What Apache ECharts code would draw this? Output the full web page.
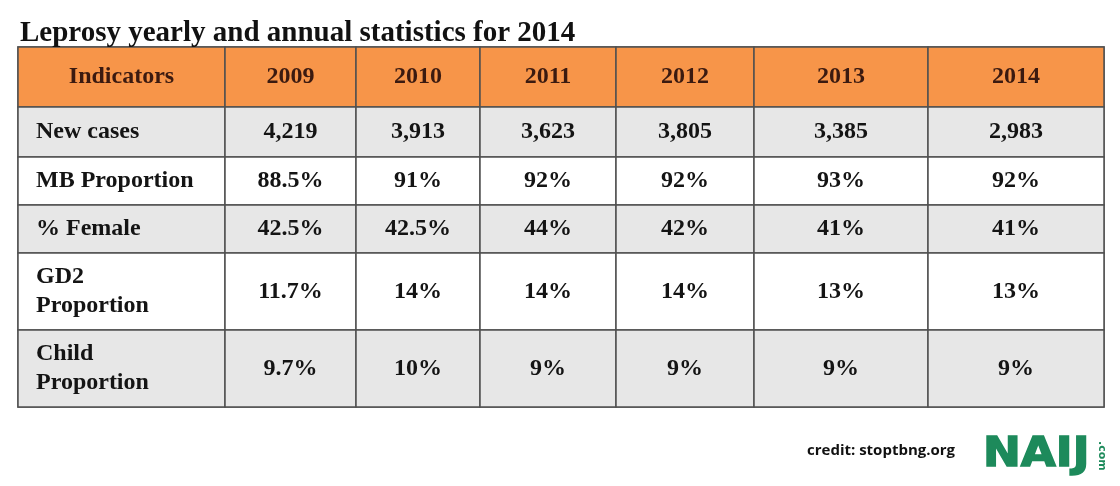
<!DOCTYPE html>
<html><head><meta charset="utf-8">
<script src="https://cdn.jsdelivr.net/npm/echarts@6/dist/echarts.min.js"></script>
<style>html,body{margin:0;padding:0;background:#fff}#c{width:1120px;height:486px}</style>
</head><body><div id="c"></div>
<script>
// ---- data ----
const title = 'Leprosy yearly and annual statistics for 2014';
const headerLabel = 'Indicators';
const years = ['2009', '2010', '2011', '2012', '2013', '2014'];
const indicators = ['New cases', 'MB Proportion', '% Female', 'GD2\nProportion', 'Child\nProportion'];
const newCases = ['4,219', '3,913', '3,623', '3,805', '3,385', '2,983'];
const mbProportion = ['88.5%', '91%', '92%', '92%', '93%', '92%'];
const femalePct = ['42.5%', '42.5%', '44%', '42%', '41%', '41%'];
const gd2Proportion = ['11.7%', '14%', '14%', '14%', '13%', '13%'];
const childProportion = ['9.7%', '10%', '9%', '9%', '9%', '9%'];
const credit = 'credit: stoptbng.org';
const brand = 'NAIJ';
const brandSuffix = '.com';

// ---- layout / style ----
const colW = [207, 131, 124, 136, 138, 174, 176];
const rowH = [60, 50, 48, 48, 77, 77];
const SERIF = '"Liberation Serif", "DejaVu Serif", serif';
const ORANGE = '#F79549';
const GREY = '#E7E7E7';
const BORDER = '#505050';
const FS = 24;

const rows = [newCases, mbProportion, femalePct, gd2Proportion, childProportion];
const cells = [];
[headerLabel].concat(years).forEach((t, c) => {
  cells.push({
    coord: [c, 0], value: t,
    itemStyle: { color: ORANGE, borderColor: BORDER, borderWidth: 1.5 },
    label: { color: '#3b1a10', fontFamily: SERIF, fontWeight: 'bold', fontSize: FS, overflow: 'none' }
  });
});
rows.forEach((vals, r) => {
  const bg = r % 2 === 0 ? GREY : '#FFFFFF';
  cells.push({
    coord: [0, r + 1], value: indicators[r],
    itemStyle: { color: bg, borderColor: BORDER, borderWidth: 1.5 },
    label: { color: '#141414', fontFamily: SERIF, fontWeight: 'bold', fontSize: FS, position: 'insideLeft', distance: 15, align: 'left', lineHeight: 29, overflow: 'none' }
  });
  vals.forEach((v, c) => {
    cells.push({
      coord: [c + 1, r + 1], value: v,
      itemStyle: { color: bg, borderColor: BORDER, borderWidth: 1.5 },
      label: { color: '#141414', fontFamily: SERIF, fontWeight: 'bold', fontSize: FS, overflow: 'none' }
    });
  });
});

const chart = echarts.init(document.getElementById('c'), null, { renderer: 'canvas' });
chart.setOption({
  backgroundColor: '#ffffff',
  title: {
    text: title, left: 15, top: 14,
    textStyle: { fontFamily: SERIF, fontWeight: 'bold', fontSize: 29, color: '#111' }
  },
  matrix: {
    left: 18, top: 47, width: 1086, height: 360,
    x: { show: false, data: [headerLabel].concat(years).map((v, i) => ({ value: v, size: colW[i] })) },
    y: { show: false, data: ['h'].concat(indicators).map((v, i) => ({ value: v, size: rowH[i] })) },
    body: {
      data: cells,
      itemStyle: { borderColor: BORDER, borderWidth: 1.5 }
    },
    backgroundStyle: { borderColor: BORDER, borderWidth: 1.5 }
  },
  graphic: [
    { type: 'text', left: 807, top: 443, style: { text: credit, fontFamily: '"Open Sans", sans-serif', fontWeight: 'bold', fontSize: 15, fill: '#111' } },
    { type: 'text', x: 983, y: 436, scaleX: 1.13, style: { text: brand, fontFamily: '"DejaVu Sans", sans-serif', fontWeight: 'bold', fontSize: 40, fill: '#1D8A5B', stroke: '#1D8A5B', lineWidth: 1.5 } },
    { type: 'text', x: 1107, y: 441, rotation: -Math.PI / 2, style: { text: brandSuffix, fontFamily: '"DejaVu Sans", sans-serif', fontWeight: 'bold', fontSize: 11, fill: '#1D8A5B' } }
  ]
});
</script></body></html>
